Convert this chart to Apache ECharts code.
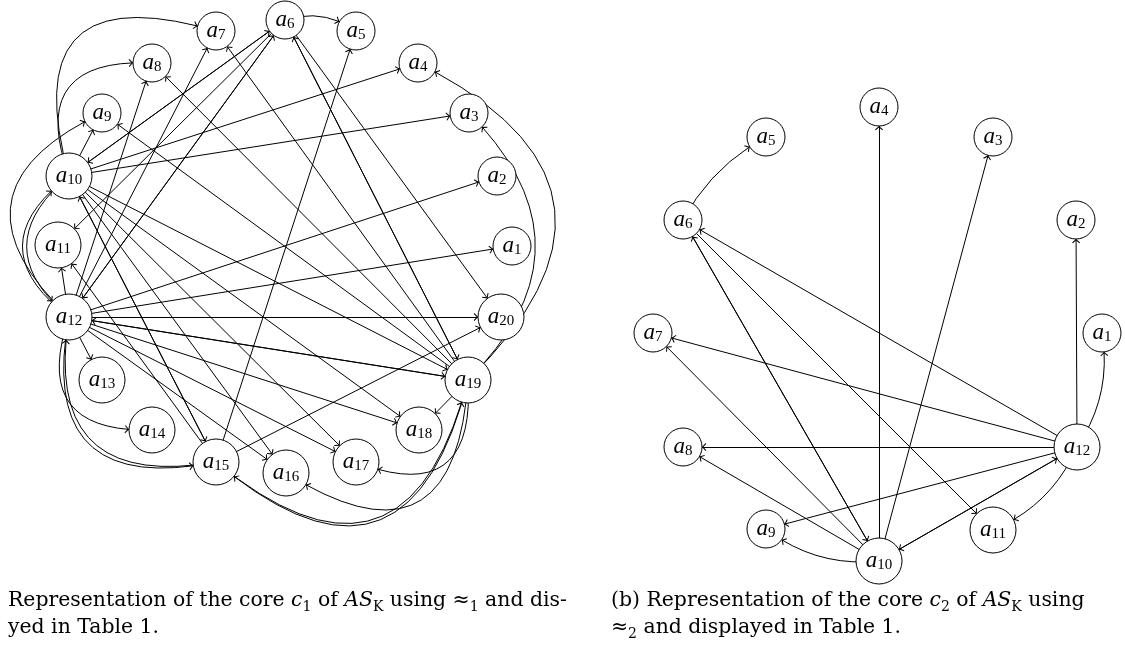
<!DOCTYPE html>
<html>
<head>
<meta charset="utf-8">
<script src="https://cdn.jsdelivr.net/npm/echarts@6/dist/echarts.min.js"></script>
<style>
html,body{margin:0;padding:0;background:#fff}
#main{width:1125px;height:647px}
</style>
</head>
<body>
<div id="main"></div>
<script>
// core c1 (left): node centres, in page pixels
var leftNames = ['a1','a2','a3','a4','a5','a6','a7','a8','a9','a10','a11','a12','a13','a14','a15','a16','a17','a18','a19','a20'];
var leftX = [512, 497, 469, 418, 356, 285, 216, 152, 102, 69, 58, 69, 102, 152, 216, 286, 356, 419, 468, 501];
var leftY = [246, 176, 113, 63, 31, 20, 31, 63, 113, 176, 245, 317, 380, 430, 462, 473, 462, 430, 380, 317];
// edges as [from, to] (node numbers)
var leftEdges = [
  [10,9],[12,11],[12,13],[19,18],
  [10,6],[6,10],[10,4],[10,3],[10,15],[15,10],[10,16],[10,17],[10,18],[10,19],
  [12,7],[12,8],[12,6],[6,12],[12,2],[12,1],[12,20],[12,19],[19,12],[12,18],[12,17],[12,16],
  [6,11],[15,11],[15,5],[15,20],[6,19],[19,6],[6,20],[19,7],[19,8],[19,9],
  [10,7],[10,8],[12,9],[12,10],[10,12],[12,14],[12,15],[15,12],[6,5],
  [19,17],[19,16],[19,15],[15,19],[19,4],[19,3]
];
var leftBend = {
  '10-7': 0.9, '10-8': 0.75, '12-9': 0.73, '12-10': 0.66, '10-12': -0.6,
  '12-14': -0.72, '12-15': -0.74, '15-12': 0.7, '6-5': 0.25,
  '19-17': 0.78, '19-16': 0.84, '19-15': 0.8, '15-19': -0.78, '19-4': -0.7, '19-3': -0.5
};

// core c2 (right)
var rightNames = ['a1','a2','a3','a4','a5','a6','a7','a8','a9','a10','a11','a12'];
var rightX = [1102, 1076, 993, 879, 766, 683, 653, 683, 766, 879, 993, 1077];
var rightY = [333, 220, 137, 107, 137, 220, 333, 447, 529, 561, 530, 447];
var rightEdges = [
  [10,4],[10,3],[12,2],[12,7],[12,6],[12,8],[12,9],
  [10,6],[6,10],[10,7],[6,11],[10,8],[10,12],[12,10],
  [6,5],[12,1],[12,11],[10,9]
];
var rightBend = { '6-5': 0.15, '12-1': -0.2, '12-11': 0.2, '10-9': 0.2 };

var captionA = '{r|Representation of the core }{i|c}{s|1}{r| of }{i|AS}{s|K}{r| using ≈}{s|1}{r| and dis-}\n{r|yed in Table 1.}';
var captionB = '{r|(b) Representation of the core }{i|c}{s|2}{r| of }{i|AS}{s|K}{r| using}\n{r|≈}{s|2}{r| and displayed in Table 1.}';

var openArrow = 'path://M6,6 L10,9.6 L9.3,10.3 L6,7.4 L2.7,10.3 L2,9.6 Z M0,0 L0.01,0 Z M12,12 L11.99,12 Z';

function nodes(names, xs, ys) {
  return names.map(function (n, i) {
    return { name: n, value: [xs[i], ys[i]], symbolSize: n.length > 2 ? 46 : 38 };
  });
}
function links(list, bend) {
  return list.map(function (e) {
    var k = e[0] + '-' + e[1];
    return {
      source: 'a' + e[0], target: 'a' + e[1],
      lineStyle: { curveness: bend[k] || 0 }
    };
  });
}

var labelRich = {
  a: { fontFamily: 'Liberation Serif', fontStyle: 'italic', fontSize: 23, lineHeight: 24, color: '#000', verticalAlign: 'middle' },
  n: { fontFamily: 'Liberation Serif', fontSize: 15, lineHeight: 16, color: '#000', verticalAlign: 'bottom' }
};
function graphSeries(names, xs, ys, list, bend) {
  return {
    type: 'graph',
    layout: 'none',
    coordinateSystem: 'cartesian2d',
    silent: true,
    symbol: 'circle',
    edgeSymbol: ['none', openArrow],
    edgeSymbolSize: [0, 12],
    itemStyle: { color: '#fff', borderColor: '#000', borderWidth: 1 },
    lineStyle: { color: '#000', width: 1, opacity: 1 },
    label: {
      show: true, position: 'inside',
      formatter: function (p) { return '{a|a}{n|' + p.name.slice(1) + '}'; },
      rich: labelRich
    },
    data: nodes(names, xs, ys),
    links: links(list, bend)
  };
}

var capRich = {
  r: { fontFamily: 'DejaVu Serif', fontSize: 20.4, lineHeight: 27, color: '#000' },
  i: { fontFamily: 'DejaVu Serif', fontStyle: 'italic', fontSize: 20.4, lineHeight: 27, color: '#000' },
  s: { fontFamily: 'DejaVu Serif', fontSize: 14, lineHeight: 20, color: '#000', verticalAlign: 'bottom' }
};

var myChart = echarts.init(document.getElementById('main'));
myChart.setOption({
  animation: false,
  backgroundColor: '#fff',
  grid: { left: 0, right: 0, top: 0, bottom: 0 },
  xAxis: { type: 'value', min: 0, max: 1125, show: false },
  yAxis: { type: 'value', min: 0, max: 647, inverse: true, show: false },
  graphic: [
    { type: 'text', left: 8, top: 591, style: { text: captionA, rich: capRich } },
    { type: 'text', left: 611, top: 591, style: { text: captionB, rich: capRich } }
  ],
  series: [
    graphSeries(leftNames, leftX, leftY, leftEdges, leftBend),
    graphSeries(rightNames, rightX, rightY, rightEdges, rightBend)
  ]
});
</script>
</body>
</html>
